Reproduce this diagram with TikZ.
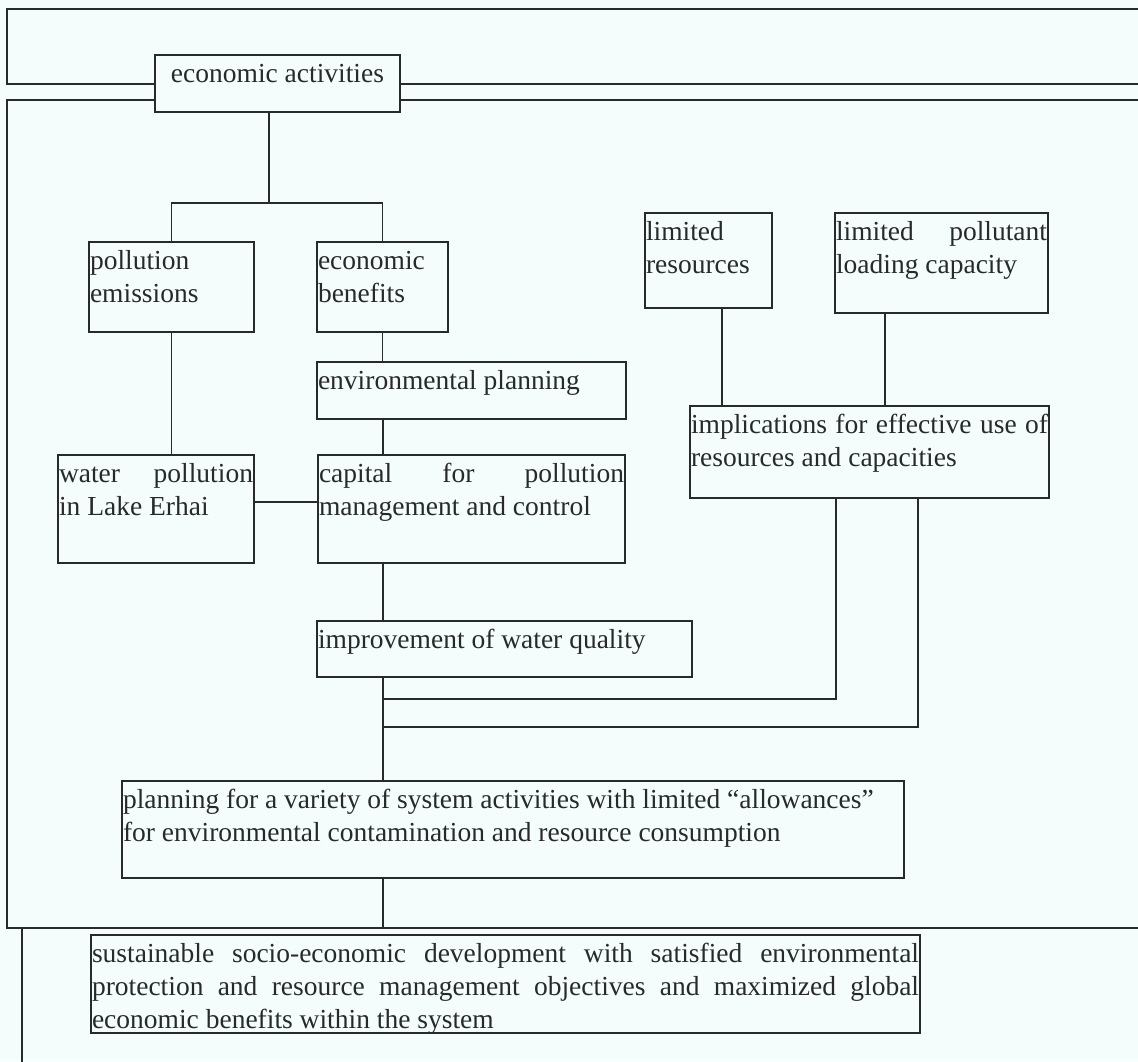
\documentclass[tikz,border=0pt]{standalone}
\usepackage{fontspec}
\setmainfont{Liberation Serif}
\definecolor{paper}{RGB}{245,252,252}
\definecolor{ink}{RGB}{40,42,42}
% fixed-size text block: width, height, content (first baseline 27pt below top)
\newcommand{\boxtext}[3]{\parbox[c][#2pt][t]{#1pt}{\sloppy\rule{0pt}{27pt}#3}}
\begin{document}
\begin{tikzpicture}[x=1pt,y=-1pt,
  blk/.style={draw=ink, line width=1.8pt, inner xsep=1pt, inner ysep=0pt,
    outer sep=0pt, anchor=north west, text=ink,
    font=\fontsize{27.5}{33}\selectfont},
  link/.style={draw=ink, line width=1.8pt}]
\useasboundingbox (0,0) rectangle (1138,1061);
\fill[paper] (0,0) rectangle (1138,1061);

% boxes
\node[blk] (ea)  at (155,55)  {\boxtext{243}{57}{\centering economic activities}};
\node[blk] (pe)  at (89,242)  {\boxtext{163}{90}{pollution\\emissions}};
\node[blk] (eb)  at (317,242) {\boxtext{129}{90}{economic\\benefits}};
\node[blk] (ep)  at (317,362) {\boxtext{307}{57}{environmental planning}};
\node[blk] (wp)  at (58,455)  {\boxtext{194}{108}{water pollution\linebreak in Lake Erhai}};
\node[blk] (cap) at (318,455) {\boxtext{305}{108}{capital for pollution\linebreak management and control}};
\node[blk] (lr)  at (645,213) {\boxtext{125}{95}{limited\\resources}};
\node[blk] (lp)  at (835,213) {\boxtext{211}{100}{limited pollutant\linebreak loading capacity}};
\node[blk] (imp) at (690,406) {\boxtext{357}{92}{implications for effective use of\linebreak resources and capacities}};
\node[blk] (iw)  at (317,621) {\boxtext{373}{56}{improvement of water quality}};
\node[blk] (pl)  at (122,781) {\boxtext{780}{97}{planning for a variety of system activities with limited “allowances”\\for environmental contamination and resource consumption}};
\node[blk] (sd)  at (91,935)  {\boxtext{827}{98}{sustainable socio-economic development with satisfied environmental\linebreak protection and resource management objectives and maximized global\linebreak economic benefits within the system}};

% reference points
\coordinate (j)  at (269,203);
\coordinate (cx) at (383,0);
\coordinate (a1) at (722,0);
\coordinate (a2) at (885,0);
\coordinate (r1) at (836,699);
\coordinate (r2) at (918,727);
\coordinate (h1) at (0,84);
\coordinate (h2) at (0,100);
\coordinate (fb) at (0,928);

% outer frame
\draw[link] (ea.west |- h1) -- (7,84) -- (7,9) -- (1140,9);
\draw[link] (ea.east |- h1) -- (1140,84);
\draw[link] (ea.west |- h2) -- (7,100) -- (7,928) -- (1140,928);
\draw[link] (ea.east |- h2) -- (1140,100);
\draw[link] (22,929) -- (22,1062);

% connectors
\draw[link] (j |- ea.south) -- (j);
\draw[link] (pe.north) |- (j) -| (eb.north);
\draw[link] (pe.south) -- (pe.south |- wp.north);
\draw[link] (eb.south) -- (eb.south |- ep.north);
\draw[link] (cx |- ep.south) -- (cx |- cap.north);
\draw[link] ([yshift=7pt]wp.east) -- ([yshift=7pt]wp.east -| cap.west);
\draw[link] (cx |- cap.south) -- (cx |- iw.north);
\draw[link] (cx |- iw.south) -- (cx |- pl.north);
\draw[link] (cx |- pl.south) -- (cx |- fb);
\draw[link] (a1 |- lr.south) -- (a1 |- imp.north);
\draw[link] (a2 |- lp.south) -- (a2 |- imp.north);
\draw[link] (r1 |- imp.south) -- (r1) -- (cx |- r1);
\draw[link] (r2 |- imp.south) -- (r2) -- (cx |- r2);
\end{tikzpicture}
\end{document}
